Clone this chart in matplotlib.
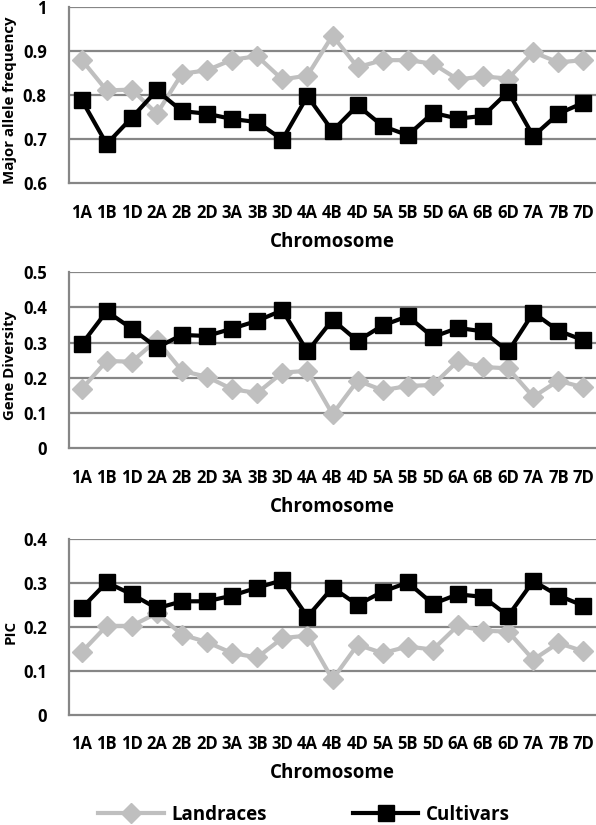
import numpy as np
import matplotlib.pyplot as plt

plt.rcParams['font.family'] = ['Open Sans', 'DejaVu Sans']
plt.rcParams['font.weight'] = 'bold'

# chromosome labels
chromosomes = ['1A', '1B', '1D', '2A', '2B', '2D', '3A', '3B', '3D', '4A', '4B',
               '4D', '5A', '5B', '5D', '6A', '6B', '6D', '7A', '7B', '7D']

# Major allele frequency
maf_landraces = [0.881, 0.811, 0.813, 0.758, 0.849, 0.857, 0.881, 0.889, 0.836, 0.845, 0.936,
                 0.864, 0.880, 0.880, 0.872, 0.836, 0.843, 0.838, 0.898, 0.875, 0.880]
maf_cultivars = [0.790, 0.689, 0.749, 0.811, 0.764, 0.758, 0.746, 0.739, 0.699, 0.798, 0.719,
                 0.777, 0.730, 0.709, 0.760, 0.747, 0.753, 0.808, 0.707, 0.758, 0.783]

# Gene diversity
gd_landraces = [0.168, 0.248, 0.246, 0.307, 0.220, 0.203, 0.168, 0.157, 0.215, 0.220, 0.097,
                0.192, 0.165, 0.177, 0.180, 0.248, 0.231, 0.227, 0.146, 0.192, 0.173]
gd_cultivars = [0.295, 0.389, 0.340, 0.286, 0.322, 0.319, 0.340, 0.362, 0.392, 0.275, 0.365,
                0.305, 0.349, 0.375, 0.316, 0.342, 0.332, 0.275, 0.385, 0.334, 0.307]

# PIC
pic_landraces = [0.142, 0.202, 0.202, 0.231, 0.182, 0.165, 0.140, 0.130, 0.174, 0.180, 0.080,
                 0.159, 0.140, 0.155, 0.148, 0.203, 0.191, 0.189, 0.125, 0.163, 0.144]
pic_cultivars = [0.242, 0.301, 0.274, 0.242, 0.258, 0.258, 0.271, 0.289, 0.306, 0.223, 0.289,
                 0.250, 0.280, 0.301, 0.252, 0.274, 0.268, 0.225, 0.304, 0.271, 0.248]

panels = [
    ('Major allele frequency', maf_landraces, maf_cultivars, 0.6, 1.0,
     [0.6, 0.7, 0.8, 0.9, 1.0], ['0.6', '0.7', '0.8', '0.9', '1']),
    ('Gene Diversity', gd_landraces, gd_cultivars, 0.0, 0.5,
     [0, 0.1, 0.2, 0.3, 0.4, 0.5], ['0', '0.1', '0.2', '0.3', '0.4', '0.5']),
    ('PIC', pic_landraces, pic_cultivars, 0.0, 0.4,
     [0, 0.1, 0.2, 0.3, 0.4], ['0', '0.1', '0.2', '0.3', '0.4']),
]

# axes boxes: [left, bottom, width, height] in figure fraction
boxes = [
    [0.1158, 0.778, 0.8842, 0.213],
    [0.1158, 0.4566, 0.8842, 0.2134],
    [0.1158, 0.1339, 0.8842, 0.2128],
]

fig = plt.figure(figsize=(5.96, 8.25), dpi=100)
x = np.arange(len(chromosomes))
grid_col = '#868686'

for box, (ylabel, land, cult, ymin, ymax, yt, ytl) in zip(boxes, panels):
    ax = fig.add_axes(box)
    ax.plot(x, land, color='#BFBFBF', lw=3, marker='D', ms=10,
            mec='#BFBFBF', label='Landraces', zorder=3)
    ax.plot(x, cult, color='black', lw=3, marker='s', ms=12,
            label='Cultivars', zorder=4)
    ax.set_xlim(-0.5, len(chromosomes) - 0.5)
    ax.set_ylim(ymin, ymax)
    ax.set_yticks(yt)
    ax.set_yticklabels(ytl)
    ax.set_xticks(x)
    ax.set_xticklabels(chromosomes)
    for v in yt[1:]:
        ax.axhline(v, color=grid_col, lw=1.6, zorder=1)
    for s in ['top', 'right']:
        ax.spines[s].set_visible(False)
    for s in ['left', 'bottom']:
        ax.spines[s].set_color(grid_col)
        ax.spines[s].set_linewidth(1.6)
    ax.tick_params(length=0, labelsize=12)
    ax.tick_params(axis='y', pad=16)
    ax.tick_params(axis='x', pad=15)
    ax.set_xlabel('Chromosome', fontsize=13.5, fontweight='bold', labelpad=7)
    ax.set_ylabel(ylabel, fontsize=10.8, fontweight='bold')
    ax.yaxis.set_label_coords(-0.098, 0.47)
    last_ax = ax

handles, labels = last_ax.get_legend_handles_labels()
fig.legend(handles, labels, loc='center', bbox_to_anchor=(0.51, 0.0125), ncol=2,
           frameon=False, fontsize=13.5, handlelength=3.5, columnspacing=4.6,
           handletextpad=0.4, markerscale=1.0, borderaxespad=0, borderpad=0.2)

fig.savefig('out.png', dpi=100)
